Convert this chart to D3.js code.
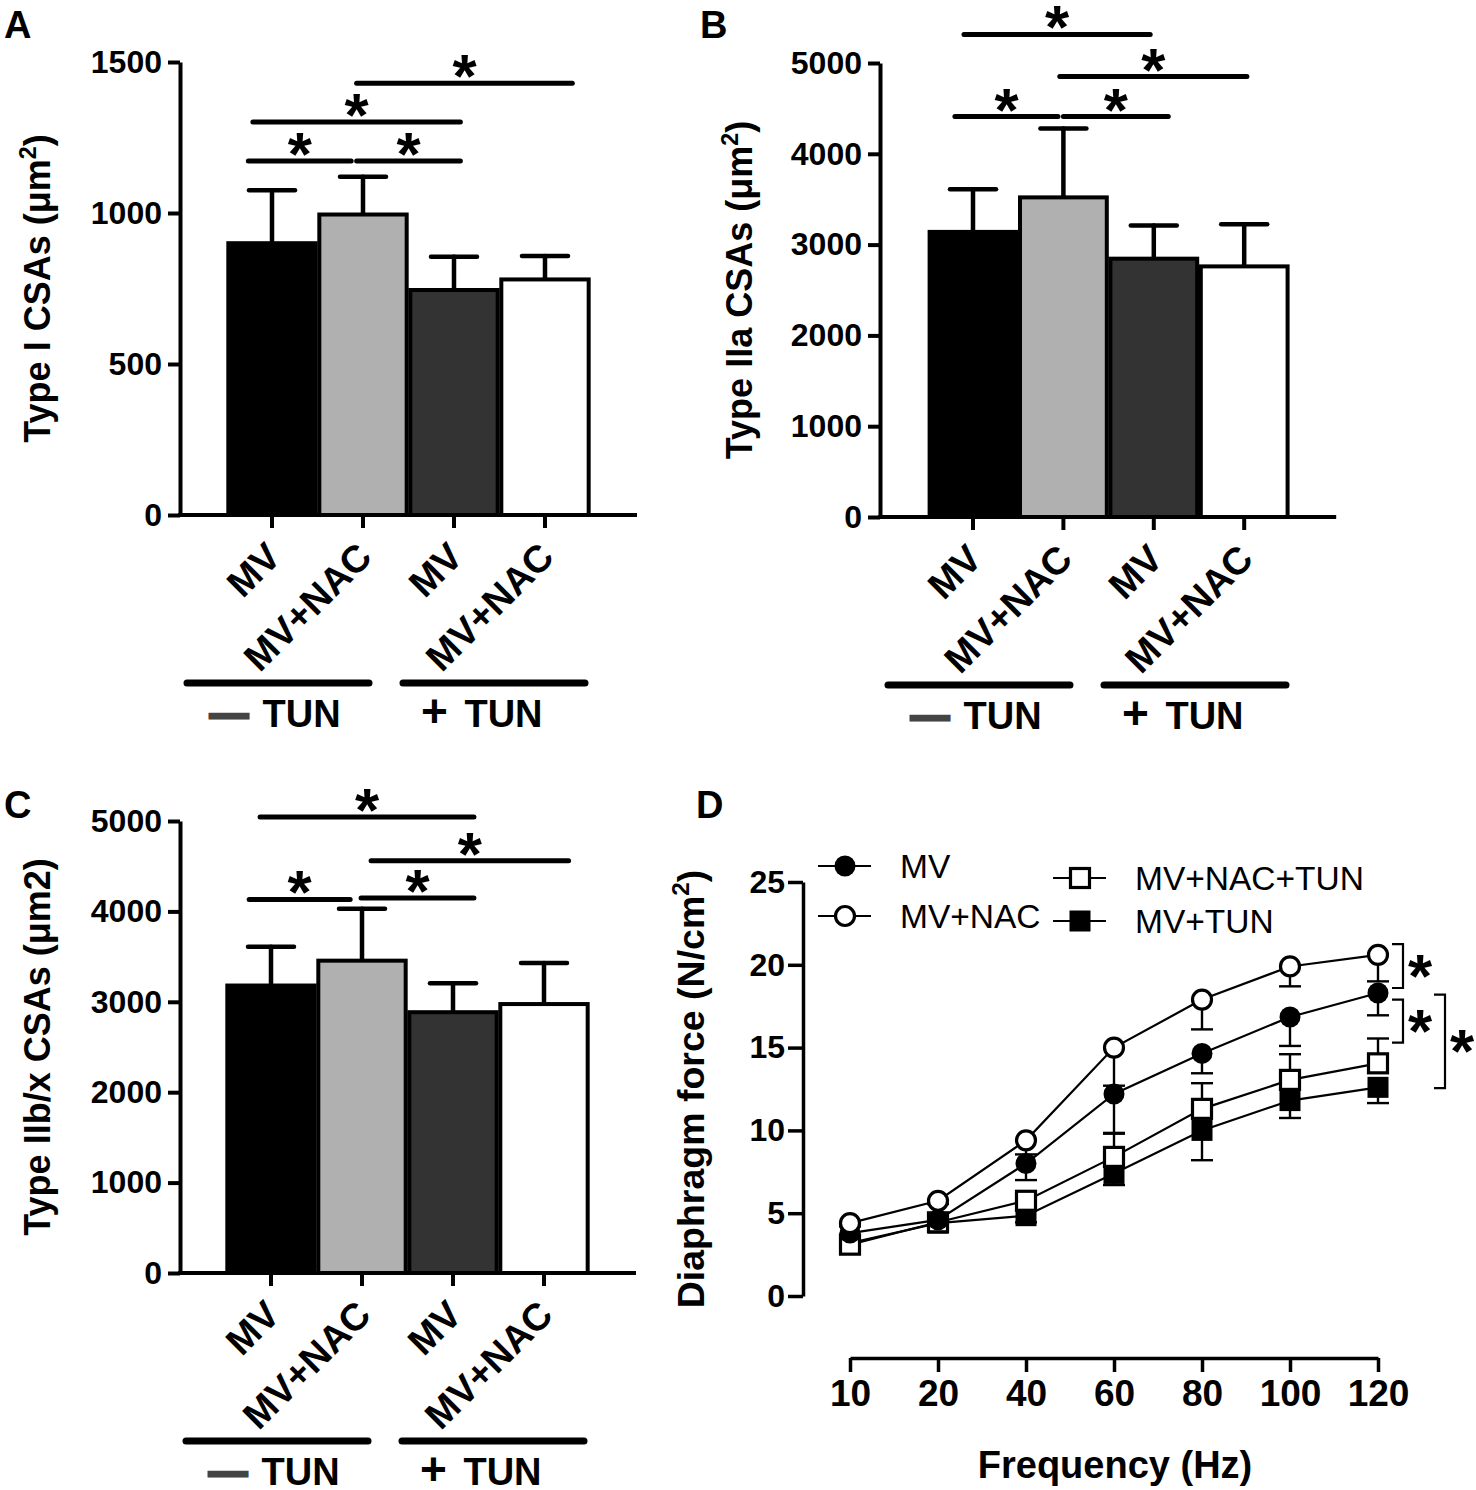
<!DOCTYPE html>
<html>
<head>
<meta charset="utf-8">
<script src="https://cdn.jsdelivr.net/npm/d3@7"></script>
<style>
  body { margin: 0; background: #fff; }
  svg { font-family: "Liberation Sans", Arial, Helvetica, sans-serif; }
</style>
</head>
<body>
<svg id="fig" width="1476" height="1490"></svg>
<script>
// ---- data ----
var barGroups = ["MV", "MV+NAC", "MV", "MV+NAC"];
var tunSigns = ["\u2014", "+"];

// A: type I CSA
var typeIMean = [900, 995, 745, 780];
var typeIErr = [175, 125, 110, 78];
// B: type IIa CSA
var typeIIaMean = [3140, 3520, 2845, 2760];
var typeIIaErr = [470, 760, 365, 465];
// C: type IIb/x CSA
var typeIIbMean = [3180, 3455, 2885, 2975];
var typeIIbErr = [430, 575, 320, 455];

// significance bars: [from, to (in bar units), height (data units)]
var sigA = [[-0.26, 0.87, 1172], [0.93, 2.07, 1172], [-0.21, 2.07, 1301], [0.93, 3.30, 1430]];
var sigB = [[-0.20, 0.94, 4410], [1.00, 2.16, 4410], [-0.10, 1.96, 5315], [0.96, 3.03, 4850]];
var sigC = [[-0.24, 0.87, 4133], [0.99, 2.23, 4148], [-0.12, 2.23, 5045], [1.10, 3.27, 4561]];

// D: diaphragm force-frequency
var freqs = ["10", "20", "40", "60", "80", "100", "120"];
var forceMV = [3.8, 4.6, 8.0, 12.2, 14.65, 16.85, 18.3];
var errMV = [0.2, 0.2, 1.0, 2.35, 1.2, 1.75, 1.35];
var forceMVNAC = [4.4, 5.75, 9.4, 15.0, 17.9, 19.9, 20.6];
var errMVNAC = [0.2, 0.2, 0.85, 2.3, 1.8, 1.2, 1.6];
var forceMVNACTUN = [3.1, 4.45, 5.75, 8.4, 11.3, 13.05, 14.05];
var errMVNACTUN = [0.2, 0.2, 0.35, 1.4, 1.55, 1.55, 1.5];
var forceMVTUN = [3.2, 4.4, 4.85, 7.4, 10.0, 11.8, 12.6];
var errMVTUN = [0.2, 0.2, 0.4, 0.7, 1.8, 1.05, 0.95];
// brackets on the right of D: [top, bottom, column]
var dBrackets = [[21.25, 18.6, 0], [17.9, 15.3, 0], [18.2, 12.55, 1]];

var barFills = ["#000", "#b0b0b0", "#333", "#fff"];

var svg = d3.select("#fig");

function panelLetter(t, x, y) {
  svg.append("text").attr("x", x).attr("y", y)
    .attr("font-size", 38).attr("font-weight", "bold").text(t);
}

function yTitle(g, x, y, fs, main, sup, tail) {
  var t = g.append("text")
    .attr("transform", "translate(" + x + "," + y + ") rotate(-90)")
    .attr("text-anchor", "middle")
    .attr("font-size", fs).attr("font-weight", "bold");
  t.append("tspan").text(main);
  if (sup) t.append("tspan").attr("font-size", fs * 0.65).attr("dy", -fs * 0.4).text(sup);
  t.append("tspan").attr("dy", sup ? fs * 0.4 : 0).text(tail);
}

function barPanel(p) {
  var g = svg.append("g");
  var y = d3.scaleLinear().domain([0, p.yMax]).range([p.bottom, p.top]);
  var x = d3.scaleBand().domain(d3.range(barGroups.length))
    .range([p.c0 - p.step / 2, p.c0 + p.step * 3.5])
    .paddingInner(0.04).paddingOuter(0.02);
  var u = d3.scaleLinear().domain([0, 3]).range([p.c0, p.c0 + 3 * p.step]);

  // error bars (up only)
  var eb = g.append("g").attr("stroke", "#000").attr("stroke-width", 4.5).attr("stroke-linecap", "round");
  p.mean.forEach(function(m, i) {
    var cx = x(i) + x.bandwidth() / 2;
    eb.append("line").attr("x1", cx).attr("x2", cx).attr("y1", y(m)).attr("y2", y(m + p.err[i]));
    eb.append("line").attr("x1", cx - 23).attr("x2", cx + 23).attr("y1", y(m + p.err[i])).attr("y2", y(m + p.err[i]));
  });

  g.append("g").selectAll("rect").data(p.mean).join("rect")
    .attr("x", function(d, i) { return x(i); })
    .attr("width", x.bandwidth())
    .attr("y", function(d) { return y(d); })
    .attr("height", function(d) { return y(0) - y(d); })
    .attr("fill", function(d, i) { return barFills[i]; })
    .attr("stroke", "#000").attr("stroke-width", 4);

  // y axis
  var ya = g.append("g").attr("transform", "translate(" + p.axisX + ",0)")
    .call(d3.axisLeft(y).tickValues(p.ticks).tickSize(12).tickSizeOuter(0).tickPadding(6).tickFormat(d3.format("d")));
  ya.selectAll("path,line").attr("stroke-width", 4);
  ya.selectAll("text").attr("font-size", 32).attr("font-weight", "bold").attr("font-family", null);

  // x axis
  var xa = g.append("g").attr("transform", "translate(0," + p.bottom + ")")
    .call(d3.axisBottom(x).tickSize(13).tickFormat(function(i) { return barGroups[i]; }));
  xa.select(".domain").remove();
  xa.selectAll("line").attr("stroke-width", 4);
  xa.selectAll("text")
    .attr("x", 0).attr("y", 0).attr("dy", 0)
    .attr("transform", "translate(11,44) rotate(-45)")
    .attr("text-anchor", "end")
    .attr("font-size", 38).attr("font-weight", "bold").attr("font-family", null);
  g.append("line").attr("x1", p.axisX - 2).attr("x2", p.c0 + 3 * p.step + 92)
    .attr("y1", p.bottom).attr("y2", p.bottom)
    .attr("stroke", "#000").attr("stroke-width", 4);

  // group bars -/+ TUN
  var gy = p.bottom + 168;
  [[-85, 97], [131, 313]].forEach(function(r, k) {
    g.append("line").attr("x1", p.c0 + r[0]).attr("x2", p.c0 + r[1])
      .attr("y1", gy).attr("y2", gy)
      .attr("stroke", "#000").attr("stroke-width", 7).attr("stroke-linecap", "round");
    var t = g.append("text").attr("x", p.c0 + (k === 0 ? -62 : 149)).attr("y", gy + 44)
      .attr("font-size", 38).attr("font-weight", "bold");
    if (k === 0) {
      t.append("tspan").attr("fill", "#444").attr("stroke", "#444").attr("stroke-width", 3)
        .text(tunSigns[k]);
      t.append("tspan").attr("dx", 4).text(" TUN");
    } else {
      t.append("tspan").attr("font-size", 46).text(tunSigns[k]);
      t.append("tspan").attr("dx", 6).text(" TUN");
    }
  });

  // significance lines
  p.sig.forEach(function(s) {
    g.append("line").attr("x1", u(s[0])).attr("x2", u(s[1]))
      .attr("y1", y(s[2])).attr("y2", y(s[2]))
      .attr("stroke", "#000").attr("stroke-width", 5).attr("stroke-linecap", "round");
    g.append("text").attr("x", (u(s[0]) + u(s[1])) / 2).attr("y", y(s[2]) + 14)
      .attr("text-anchor", "middle").attr("font-size", 62).attr("font-weight", "bold").text("*");
  });

  yTitle(g, p.titleX, (p.top + p.bottom) / 2, 36, p.title[0], p.title[1], p.title[2]);
}

panelLetter("A", 4, 38);
barPanel({ mean: typeIMean, err: typeIErr, sig: sigA, yMax: 1500, ticks: [0, 500, 1000, 1500],
  axisX: 180, bottom: 515, top: 62, c0: 272, step: 91, titleX: 50,
  title: ["Type I CSAs (\u03bcm", "2", ")"] });

panelLetter("B", 700, 38);
barPanel({ mean: typeIIaMean, err: typeIIaErr, sig: sigB, yMax: 5000, ticks: [0, 1000, 2000, 3000, 4000, 5000],
  axisX: 880, bottom: 517, top: 63, c0: 973, step: 90.4, titleX: 752,
  title: ["Type IIa CSAs (\u03bcm", "2", ")"] });

panelLetter("C", 4, 818);
barPanel({ mean: typeIIbMean, err: typeIIbErr, sig: sigC, yMax: 5000, ticks: [0, 1000, 2000, 3000, 4000, 5000],
  axisX: 180, bottom: 1273, top: 821, c0: 271, step: 91, titleX: 50,
  title: ["Type IIb/x CSAs (\u03bcm2)", null, ""] });

// ---- panel D ----
panelLetter("D", 696, 818);
var gD = svg.append("g");
var xD = d3.scalePoint().domain(freqs).range([850, 1378]);
var yD = d3.scaleLinear().domain([0, 25]).range([1296, 882]);

var series = [
  { name: "MV", v: forceMV, e: errMV, dir: -1, shape: "circle", filled: true },
  { name: "MV+NAC", v: forceMVNAC, e: errMVNAC, dir: -1, shape: "circle", filled: false },
  { name: "MV+NAC+TUN", v: forceMVNACTUN, e: errMVNACTUN, dir: 1, shape: "square", filled: false },
  { name: "MV+TUN", v: forceMVTUN, e: errMVTUN, dir: -1, shape: "square", filled: true }
];
var drawOrder = [3, 2, 0, 1];

function marker(g, s, cx, cy) {
  if (s.shape === "circle") {
    g.append("circle").attr("cx", cx).attr("cy", cy).attr("r", s.filled ? 10.5 : 9.5)
      .attr("fill", s.filled ? "#000" : "#fff").attr("stroke", "#000").attr("stroke-width", s.filled ? 0 : 3.2);
  } else {
    var h = s.filled ? 10.5 : 9.5;
    g.append("rect").attr("x", cx - h).attr("y", cy - h).attr("width", 2 * h).attr("height", 2 * h)
      .attr("fill", s.filled ? "#000" : "#fff").attr("stroke", "#000").attr("stroke-width", s.filled ? 0 : 3.2);
  }
}

var line = d3.line().x(function(d, i) { return xD(freqs[i]); }).y(function(d) { return yD(d); });
series.forEach(function(s) {
  gD.append("path").datum(s.v).attr("d", line)
    .attr("fill", "none").attr("stroke", "#000").attr("stroke-width", 2.2);
});
series.forEach(function(s) {
  var eg = gD.append("g").attr("stroke", "#000").attr("stroke-width", 2.4);
  s.v.forEach(function(v, i) {
    var cx = xD(freqs[i]), ye = yD(v + s.dir * s.e[i]);
    eg.append("line").attr("x1", cx).attr("x2", cx).attr("y1", yD(v)).attr("y2", ye);
    eg.append("line").attr("x1", cx - 11).attr("x2", cx + 11).attr("y1", ye).attr("y2", ye);
  });
});
drawOrder.forEach(function(k) {
  var s = series[k];
  s.v.forEach(function(v, i) { marker(gD, s, xD(freqs[i]), yD(v)); });
});

// axes
var yaD = gD.append("g").attr("transform", "translate(803,0)")
  .call(d3.axisLeft(yD).tickValues([0, 5, 10, 15, 20, 25]).tickSize(15).tickSizeOuter(0).tickPadding(3));
yaD.selectAll("path,line").attr("stroke-width", 3.5);
yaD.selectAll("text").attr("font-size", 32).attr("font-weight", "bold").attr("font-family", null);

var xaD = gD.append("g").attr("transform", "translate(0,1358)")
  .call(d3.axisBottom(xD).tickSize(14).tickSizeOuter(0).tickPadding(8));
xaD.selectAll("path,line").attr("stroke-width", 3.5);
xaD.selectAll("text").attr("font-size", 37).attr("font-weight", "bold").attr("font-family", null);

gD.append("text").attr("x", 1115).attr("y", 1478).attr("text-anchor", "middle")
  .attr("font-size", 38).attr("font-weight", "bold").text("Frequency (Hz)");
yTitle(gD, 704, 1089, 37.5, "Diaphragm force (N/cm", "2", ")");

// brackets
var x120 = xD("120");
dBrackets.forEach(function(b) {
  var xv = x120 + (b[2] === 0 ? 25 : 67), xa = xv - 11;
  gD.append("path")
    .attr("d", "M" + xa + "," + yD(b[0]) + "H" + xv + "V" + yD(b[1]) + "H" + xa)
    .attr("fill", "none").attr("stroke", "#000").attr("stroke-width", 2.2);
  gD.append("text").attr("x", xv + 17).attr("y", (yD(b[0]) + yD(b[1])) / 2 + 31)
    .attr("text-anchor", "middle").attr("font-size", 62).attr("font-weight", "bold").text("*");
});

// legend
var legPos = [[845, 866], [845, 916], [1080, 878], [1080, 921]];
series.forEach(function(s, k) {
  var p = legPos[k];
  gD.append("line").attr("x1", p[0] - 27).attr("x2", p[0] + 26).attr("y1", p[1]).attr("y2", p[1])
    .attr("stroke", "#000").attr("stroke-width", 2.2);
  marker(gD, s, p[0], p[1]);
  gD.append("text").attr("x", p[0] + 55).attr("y", p[1]).attr("dy", "0.36em")
    .attr("font-size", 33.5).text(s.name);
});
</script>
</body>
</html>
